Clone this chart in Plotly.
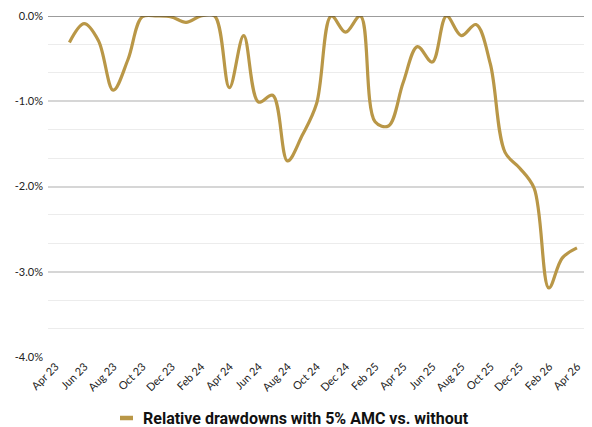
import plotly.graph_objects as go

dates = [
    "2023-04-30", "2023-05-31", "2023-06-30", "2023-07-31", "2023-08-31", "2023-09-30",
    "2023-10-31", "2023-11-30", "2023-12-31", "2024-01-31", "2024-02-29", "2024-03-31",
    "2024-04-30", "2024-05-31", "2024-06-30", "2024-07-31", "2024-08-31", "2024-09-30",
    "2024-10-31", "2024-11-30", "2024-12-31", "2025-01-31", "2025-02-28", "2025-03-31",
    "2025-04-30", "2025-05-31", "2025-06-30", "2025-07-31", "2025-08-31", "2025-09-30",
    "2025-10-31", "2025-11-30", "2025-12-31", "2026-01-31", "2026-02-28", "2026-03-31",
]
drawdown_pct = [
    -0.31, -0.09, -0.29, -0.87, -0.51, -0.01,
    0.0, -0.01, -0.075, 0.0, 0.0, -0.84,
    -0.23, -1.01, -0.93, -1.70, -1.40, -1.03,
    0.0, -0.19, 0.0, -1.24, -1.29, -0.78,
    -0.36, -0.54, 0.0, -0.23, -0.10, -0.56,
    -1.60, -1.78, -2.02, -3.19, -2.84, -2.72,
]
series_name = "Relative drawdowns with 5% AMC vs. without"
y_ticks = [0, -1, -2, -3, -4]
y_tick_labels = ["0.0%", "-1.0%", "-2.0%", "-3.0%", "-4.0%"]

GOLD = "#B99747"

# page body has an 8px default margin; figure is sized to fit the 592x427 window
OFF = 8
W, H = 592 - OFF, 427 - OFF
ML, MR, MT, MB = 48 - OFF, 6, 16 - OFF, 70

fig = go.Figure()
fig.add_trace(go.Scatter(
    x=dates, y=drawdown_pct, mode="lines", name=series_name,
    line=dict(color=GOLD, width=3.2, shape="spline", smoothing=1.0),
    showlegend=False,
))

fig.update_layout(
    width=W, height=H,
    margin=dict(l=ML, r=MR, t=MT, b=MB),
    paper_bgcolor="white", plot_bgcolor="white",
    font=dict(family="Lato, sans-serif", color="#222222", size=11),
    showlegend=False,
    xaxis=dict(
        type="date", range=["2023-03-16", "2026-04-19"], automargin=False,
        tick0="2023-04-01", dtick="M2", tickformat="%b %y", tickangle=-45,
        showgrid=False, zeroline=False, showline=False, ticks="",
        tickfont=dict(family="Lato, sans-serif", size=11, color="#222222"),
    ),
    yaxis=dict(
        range=[-4.0, 0.0], tickmode="array", tickvals=y_ticks, ticktext=y_tick_labels,
        automargin=False, ticklabelstandoff=4,
        showgrid=True, gridcolor="#D6D6D6", gridwidth=1.5,
        zeroline=False, showline=False, ticks="",
        minor=dict(dtick=1/3, tick0=0, showgrid=True, gridcolor="#ECECEC", gridwidth=1.2),
        tickfont=dict(family="Lato, sans-serif", size=11, color="#222222"),
    ),
)
fig.add_shape(type="line", xref="paper", yref="y", x0=0, x1=1, y0=0, y1=0,
              line=dict(color="#3A3A3A", width=1.2), layer="above")

# legend (manual, to match the short swatch); positions in window pixels
plot_w = W - ML - MR
plot_h = H - MT - MB
def px_x(p):
    return (p - OFF - ML) / plot_w
def px_y(p):
    return (H - MB - (p - OFF)) / plot_h

fig.add_shape(type="line", xref="paper", yref="paper",
              x0=px_x(120), x1=px_x(133), y0=px_y(418), y1=px_y(418),
              line=dict(color=GOLD, width=4.5))
fig.add_annotation(xref="paper", yref="paper", x=px_x(141), y=px_y(418),
                   xanchor="left", yanchor="middle", showarrow=False,
                   text=series_name,
                   font=dict(family="Roboto, sans-serif", size=16, color="#111111", weight="bold"))

fig.write_html("out.html")
